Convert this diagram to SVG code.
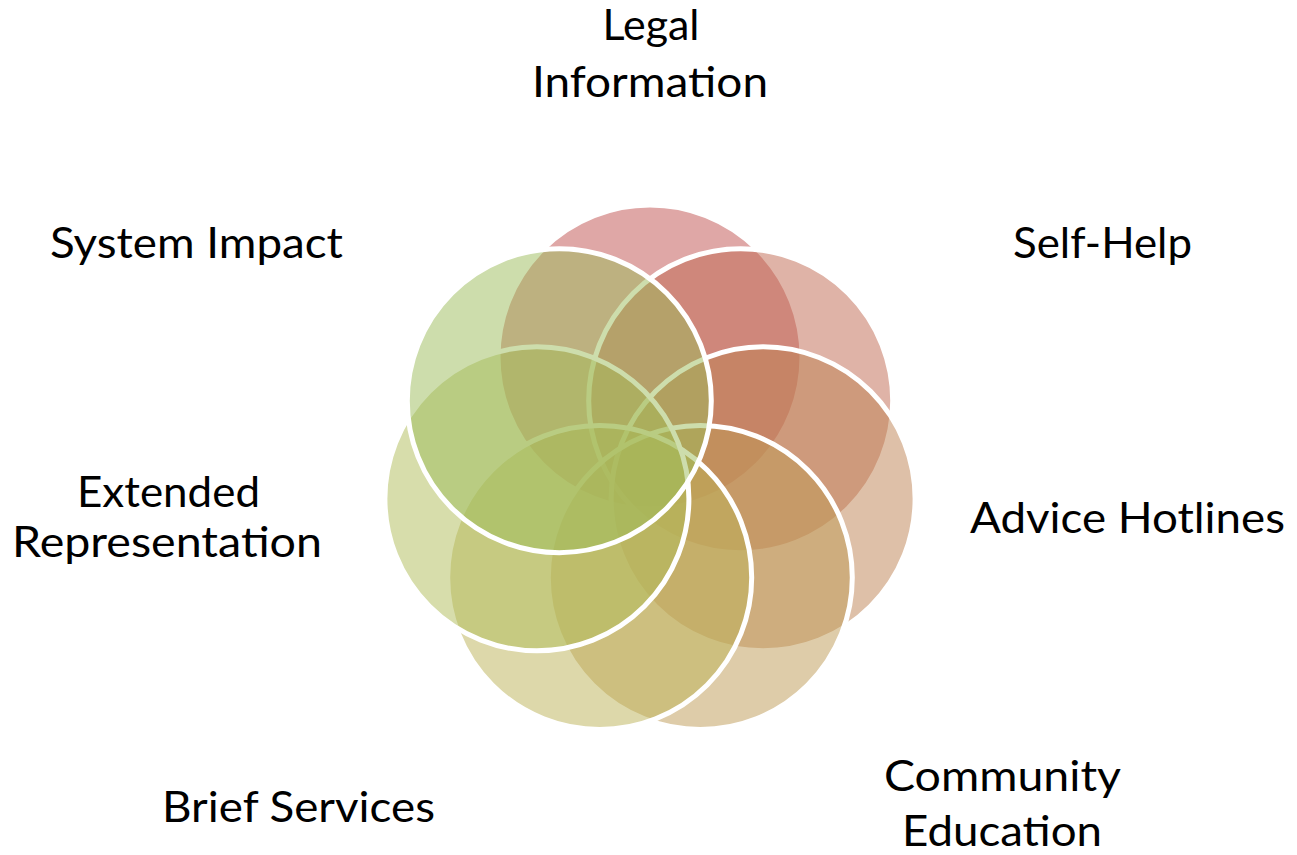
<svg xmlns="http://www.w3.org/2000/svg" width="1297" height="855" viewBox="0 0 1297 855">
  <style>
    .c { fill-opacity: 0.5; stroke: #FFFFFF; stroke-width: 5; }
    .t { font-family: Lato, "Open Sans", "Liberation Sans", sans-serif; font-size: 43px; fill: #000000; text-anchor: middle; }
  </style>
  <rect width="1297" height="855" fill="#FFFFFF"/>
  <g id="connectors"/>
  <g id="node-legal-information">
    <circle class="c" cx="650" cy="357" r="152" fill="#C0504D"/>
    <text class="t" x="651" y="40" textLength="97" lengthAdjust="spacingAndGlyphs">Legal</text>
    <text class="t" x="650" y="97" textLength="236" lengthAdjust="spacingAndGlyphs">Information</text>
  </g>
  <g id="node-self-help">
    <circle class="c" cx="740.7" cy="400.7" r="152" fill="#BF684F"/>
    <text class="t" x="1102.5" y="258" textLength="179" lengthAdjust="spacingAndGlyphs">Self-Help</text>
  </g>
  <g id="node-advice-hotlines">
    <circle class="c" cx="763.1" cy="498.8" r="152" fill="#BE8251"/>
    <text class="t" x="1127.5" y="533" textLength="315" lengthAdjust="spacingAndGlyphs">Advice Hotlines</text>
  </g>
  <g id="node-community-education">
    <circle class="c" cx="700.3" cy="577.5" r="152" fill="#BD9A53"/>
    <text class="t" x="1002.5" y="791" textLength="237" lengthAdjust="spacingAndGlyphs">Community</text>
    <text class="t" x="1002" y="846" textLength="200" lengthAdjust="spacingAndGlyphs">Education</text>
  </g>
  <g id="node-brief-services">
    <circle class="c" cx="599.7" cy="577.5" r="152" fill="#BCB155"/>
    <text class="t" x="298.5" y="822" textLength="273" lengthAdjust="spacingAndGlyphs">Brief Services</text>
  </g>
  <g id="node-extended-representation">
    <circle class="c" cx="536.9" cy="498.8" r="152" fill="#B0BC57"/>
    <text class="t" x="168.5" y="507" textLength="183" lengthAdjust="spacingAndGlyphs">Extended</text>
    <text class="t" x="167" y="557" textLength="310" lengthAdjust="spacingAndGlyphs">Representation</text>
  </g>
  <g id="node-system-impact">
    <circle class="c" cx="559.3" cy="400.7" r="152" fill="#9BBB59"/>
    <text class="t" x="196.5" y="258" textLength="293" lengthAdjust="spacingAndGlyphs">System Impact</text>
  </g>
</svg>
